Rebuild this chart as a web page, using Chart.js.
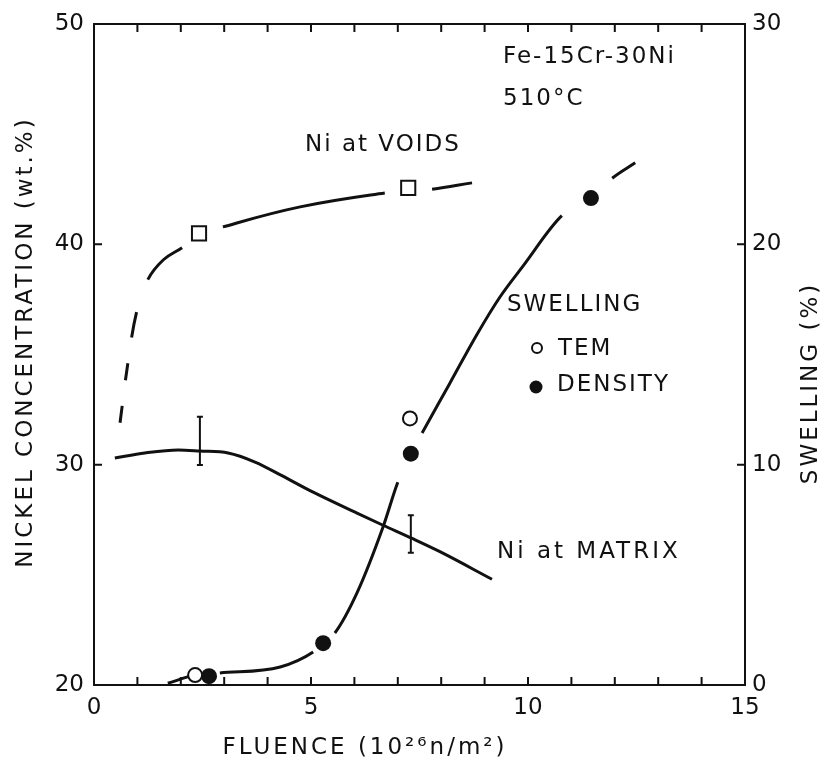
<!DOCTYPE html>
<html lang="en">
<head>
  <meta charset="UTF-8">
  <title>Fe-15Cr-30Ni | Nickel concentration and swelling</title>
  <script src="https://cdn.jsdelivr.net/npm/chart.js"></script>
  <style>
    body { margin: 0; background: #fff; }
    #wrap { width: 824px; height: 764px; position: relative; }
  </style>
</head>
<body>
  <div id="wrap"><canvas id="chart"></canvas></div>

  <script>
    // fluence in 10^26 n/m^2, nickel in wt.% (left axis), swelling in % (right axis)
    const voidsX = [2.42, 7.24];
    const voidsY = [40.5, 42.56];
    const voidsCurveX = [0.6, 0.78, 0.99, 1.24, 1.6, 2.03, 2.42, 2.97, 4.75, 6.7, 7.24, 7.79, 8.71];
    const voidsCurveY = [31.9, 34.6, 37.0, 38.4, 39.3, 39.85, 40.4, 40.79, 41.7, 42.33, 42.4, 42.5, 42.79];

    const matrixCurveX = [0.48, 1.17, 1.94, 2.44, 3.09, 3.71, 4.33, 5.05, 6.06, 6.66, 7.33, 7.97, 9.17];
    const matrixCurveY = [30.3, 30.53, 30.67, 30.62, 30.53, 30.12, 29.5, 28.75, 27.8, 27.25, 26.65, 26.05, 24.8];
    const matrixErrX = [2.44, 7.3];
    const matrixErrLow = [29.99, 26.0];
    const matrixErrHigh = [32.17, 27.7];

    const temX = [2.33, 7.28];
    const temY = [0.45, 12.1];
    const densityX = [2.65, 5.28, 7.3, 11.45];
    const densityY = [0.4, 1.9, 10.5, 22.1];
    const swellCurveX = [1.7, 2.33, 2.9, 4.29, 5.05, 5.28, 5.55, 6.06, 6.66, 7.0, 7.3, 7.56, 8.2, 8.82, 9.35, 9.88, 10.78, 11.45, 11.94, 12.47];
    const swellCurveY = [0.08, 0.45, 0.55, 0.82, 1.5, 1.9, 2.36, 4.18, 7.17, 9.2, 10.5, 11.44, 13.7, 15.9, 17.6, 19.0, 21.3, 22.1, 23.0, 23.7];

    const xTicks = [0, 5, 10, 15];
    const leftTicks = [20, 30, 40, 50];
    const rightTicks = [0, 10, 20, 30];

    const ink = '#111';
    const font = 'DejaVu Sans';
    const hidden = [0, 1000];
    const zip = (xs, ys) => xs.map((x, i) => ({ x: x, y: ys[i] }));

    // pen lifts of the hand-drawn curves (around markers, dashed starts)
    function voidsDash(c) {
      const x0 = c.p0.parsed.x;
      if (x0 < 0.7) return [17, 26, 17, 100];
      if (x0 < 0.9) return [26, 26];
      if (x0 < 1.1) return hidden;
      if (x0 > 2.0 && x0 < 2.5) return hidden;
      if (x0 > 6.5 && x0 < 7.5) return hidden;
      return undefined;
    }
    function voidsOffset(c) {
      const x0 = c.p0.parsed.x;
      return (x0 > 0.7 && x0 < 0.9) ? 26 : 0;
    }
    function swellDash(c) {
      const x0 = c.p0.parsed.x;
      if (x0 > 2.0 && x0 < 2.5) return hidden;
      if (x0 > 5.0 && x0 < 5.4) return hidden;
      if (x0 > 6.9 && x0 < 7.4) return hidden;
      if (x0 > 10.5 && x0 < 11.5) return hidden;
      return undefined;
    }

    const extras = {
      id: 'extras',
      afterDraw(chart) {
        const { ctx, chartArea: a, scales } = chart;
        const x = scales.x, y = scales.y, y2 = scales.y2;
        ctx.save();
        ctx.strokeStyle = ink;
        ctx.fillStyle = ink;
        ctx.lineWidth = 2;
        ctx.strokeRect(a.left, a.top, a.right - a.left, a.bottom - a.top);

        // inward tick marks
        ctx.beginPath();
        x.ticks.forEach(t => {
          const px = x.getPixelForValue(t.value);
          ctx.moveTo(px, a.bottom); ctx.lineTo(px, a.bottom - 8);
          ctx.moveTo(px, a.top); ctx.lineTo(px, a.top + 8);
        });
        y.ticks.forEach(t => {
          const py = y.getPixelForValue(t.value);
          ctx.moveTo(a.left, py); ctx.lineTo(a.left + 8, py);
        });
        y2.ticks.forEach(t => {
          const py = y2.getPixelForValue(t.value);
          ctx.moveTo(a.right, py); ctx.lineTo(a.right - 8, py);
        });
        ctx.stroke();

        // error bars on Ni at matrix
        ctx.beginPath();
        matrixErrX.forEach((v, i) => {
          const px = x.getPixelForValue(v);
          const lo = y.getPixelForValue(matrixErrLow[i]);
          const hi = y.getPixelForValue(matrixErrHigh[i]);
          ctx.moveTo(px, lo); ctx.lineTo(px, hi);
          ctx.moveTo(px - 3, lo); ctx.lineTo(px + 3, lo);
          ctx.moveTo(px - 3, hi); ctx.lineTo(px + 3, hi);
        });
        ctx.stroke();

        // annotations
        ctx.font = '23px "' + font + '"';
        ctx.letterSpacing = '2px';
        ctx.textBaseline = 'middle';
        ctx.textAlign = 'left';
        ctx.fillText('Fe-15Cr-30Ni', 503, 57);
        ctx.fillText('510°C', 503, 99);
        ctx.fillText('Ni at VOIDS', 305, 145);
        ctx.fillText('SWELLING', 507, 305);
        ctx.fillText('TEM', 558, 349);
        ctx.fillText('DENSITY', 557, 385);
        ctx.letterSpacing = '3px';
        ctx.fillText('Ni at MATRIX', 497, 552);

        ctx.beginPath();
        ctx.arc(537, 348, 5, 0, Math.PI * 2);
        ctx.stroke();
        ctx.beginPath();
        ctx.arc(536, 387, 6.5, 0, Math.PI * 2);
        ctx.fill();

        // axis titles
        ctx.letterSpacing = '3px';
        ctx.textAlign = 'center';
        ctx.fillText('FLUENCE (10²⁶n/m²)', 365, 748);

        ctx.save();
        ctx.translate(26, 342);
        ctx.rotate(-Math.PI / 2);
        ctx.fillText('NICKEL CONCENTRATION (wt.%)', 0, 0);
        ctx.restore();

        ctx.save();
        ctx.translate(811, 383);
        ctx.rotate(-Math.PI / 2);
        ctx.fillText('SWELLING (%)', 0, 0);
        ctx.restore();

        ctx.restore();
      }
    };

    const tickFont = { family: font, size: 23 };

    new Chart(document.getElementById('chart'), {
      type: 'scatter',
      data: {
        datasets: [
          {
            label: 'Ni at voids',
            data: zip(voidsX, voidsY),
            yAxisID: 'y',
            pointStyle: 'rect',
            pointRadius: 10,
            pointBorderWidth: 2,
            pointBorderColor: ink,
            pointBackgroundColor: '#fff'
          },
          {
            label: 'TEM',
            data: zip(temX, temY),
            yAxisID: 'y2',
            pointRadius: 7,
            pointBorderWidth: 2,
            pointBorderColor: ink,
            pointBackgroundColor: '#fff'
          },
          {
            label: 'Density',
            data: zip(densityX, densityY),
            yAxisID: 'y2',
            pointRadius: 8,
            pointBorderWidth: 0,
            pointBackgroundColor: ink
          },
          {
            label: 'Ni at voids curve',
            data: zip(voidsCurveX, voidsCurveY),
            yAxisID: 'y',
            showLine: true,
            pointRadius: 0,
            borderColor: ink,
            borderWidth: 3,
            tension: 0.4,
            segment: { borderDash: voidsDash, borderDashOffset: voidsOffset }
          },
          {
            label: 'Ni at matrix curve',
            data: zip(matrixCurveX, matrixCurveY),
            yAxisID: 'y',
            showLine: true,
            pointRadius: 0,
            borderColor: ink,
            borderWidth: 3,
            cubicInterpolationMode: 'monotone'
          },
          {
            label: 'Swelling curve',
            data: zip(swellCurveX, swellCurveY),
            yAxisID: 'y2',
            showLine: true,
            pointRadius: 0,
            borderColor: ink,
            borderWidth: 3,
            cubicInterpolationMode: 'monotone',
            segment: { borderDash: swellDash }
          }
        ]
      },
      options: {
        responsive: true,
        maintainAspectRatio: false,
        animation: false,
        layout: { padding: { top: 24, left: 0, right: 0, bottom: 0 } },
        plugins: { legend: { display: false }, tooltip: { enabled: false } },
        scales: {
          x: {
            type: 'linear',
            min: 0,
            max: 15,
            grid: { display: false, drawTicks: false },
            border: { display: false },
            ticks: {
              stepSize: 1,
              autoSkip: false,
              maxRotation: 0,
              padding: 9,
              color: ink,
              font: tickFont,
              callback: v => xTicks.includes(v) ? String(v) : ''
            },
            afterFit: s => { s.height = 79; }
          },
          y: {
            position: 'left',
            min: 20,
            max: 50,
            grid: { display: false, drawTicks: false },
            border: { display: false },
            ticks: {
              stepSize: 10,
              padding: 10,
              color: ink,
              font: tickFont,
              callback: v => leftTicks.includes(v) ? String(v) : ''
            },
            afterFit: s => { s.width = 94; }
          },
          y2: {
            position: 'right',
            min: 0,
            max: 30,
            grid: { display: false, drawTicks: false },
            border: { display: false },
            ticks: {
              stepSize: 10,
              padding: 7,
              color: ink,
              font: tickFont,
              callback: v => rightTicks.includes(v) ? String(v) : ''
            },
            afterFit: s => { s.width = 79; }
          }
        }
      },
      plugins: [extras]
    });
  </script>
</body>
</html>
